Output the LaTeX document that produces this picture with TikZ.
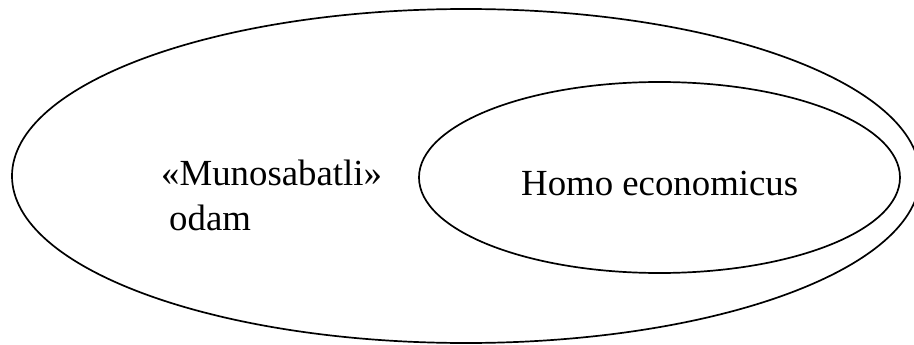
\documentclass[tikz,border=0pt]{standalone}
\usepackage{fontspec}
\setmainfont{Liberation Serif}
\begin{document}
\begin{tikzpicture}[x=1pt,y=-1pt,
  ell/.style={draw=black,line width=1.7pt},
  lbl/.style={inner sep=0pt,anchor=base west,font=\fontsize{36.8}{45}\selectfont}]
\useasboundingbox (0,0) rectangle (914,345);
\clip (0,0) rectangle (914,345);
\draw[ell] (466,176) ellipse [x radius=454, y radius=167];
\draw[ell] (659.5,177.5) ellipse [x radius=240.5, y radius=95.5];
\node[lbl] (m) at (161,185) {«Munosabatli»};
\node[lbl] (o) at (169,230) {odam};
\node[lbl] (h) at (521,195) {Homo economicus};
\end{tikzpicture}
\end{document}
